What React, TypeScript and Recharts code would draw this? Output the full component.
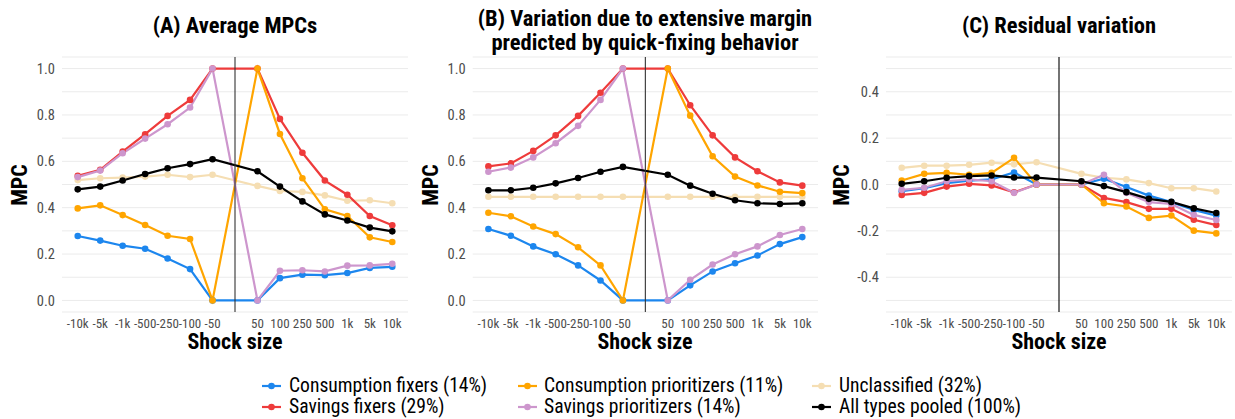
import React from 'react';
import { LineChart, Line, XAxis, YAxis, CartesianGrid, ReferenceLine } from 'recharts';

const SHOCK_LABELS = ['-10k', '-5k', '-1k', '-500', '-250', '-100', '-50', '50', '100', '250', '500', '1k', '5k', '10k'];
const SHOCK_POS = [-7, -6, -5, -4, -3, -2, -1, 1, 2, 3, 4, 5, 6, 7];

// Panel A: Average MPCs
const A_cf = [0.278, 0.258, 0.236, 0.223, 0.181, 0.135, 0, 0, 0.096, 0.111, 0.109, 0.118, 0.14, 0.145];
const A_sf = [0.537, 0.563, 0.642, 0.717, 0.796, 0.865, 1, 1, 0.783, 0.637, 0.517, 0.456, 0.364, 0.324];
const A_cp = [0.397, 0.41, 0.368, 0.325, 0.279, 0.265, 0, 1, 0.718, 0.527, 0.393, 0.364, 0.272, 0.252];
const A_sp = [0.532, 0.56, 0.635, 0.698, 0.76, 0.832, 1, 0, 0.128, 0.13, 0.125, 0.15, 0.151, 0.158];
const A_un = [0.519, 0.527, 0.53, 0.534, 0.542, 0.532, 0.542, 0.494, 0.472, 0.468, 0.453, 0.43, 0.432, 0.419];
const A_all = [0.479, 0.491, 0.517, 0.545, 0.57, 0.588, 0.609, 0.557, 0.491, 0.427, 0.371, 0.345, 0.314, 0.298];

// Panel B: Variation due to extensive margin
const B_cf = [0.308, 0.279, 0.233, 0.199, 0.151, 0.086, 0, 0, 0.065, 0.125, 0.16, 0.194, 0.243, 0.273];
const B_sf = [0.578, 0.591, 0.645, 0.712, 0.796, 0.896, 1, 1, 0.842, 0.712, 0.617, 0.557, 0.509, 0.495];
const B_cp = [0.378, 0.363, 0.319, 0.286, 0.229, 0.151, 0, 1, 0.797, 0.622, 0.534, 0.496, 0.469, 0.463];
const B_sp = [0.555, 0.573, 0.617, 0.678, 0.753, 0.865, 1, 0, 0.089, 0.155, 0.199, 0.233, 0.282, 0.308];
const B_un = [0.447, 0.447, 0.447, 0.447, 0.447, 0.447, 0.447, 0.447, 0.447, 0.447, 0.447, 0.447, 0.447, 0.447];
const B_all = [0.475, 0.475, 0.486, 0.505, 0.528, 0.555, 0.576, 0.542, 0.495, 0.46, 0.432, 0.419, 0.416, 0.419];

// Panel C: Residual variation
const C_cf = [-0.029, -0.016, 0.006, 0.017, 0.022, 0.052, 0, 0, 0.025, -0.011, -0.048, -0.076, -0.11, -0.134];
const C_sf = [-0.045, -0.036, -0.009, 0.003, -0.004, -0.034, 0, 0, -0.058, -0.076, -0.105, -0.105, -0.152, -0.175];
const C_cp = [0.017, 0.046, 0.05, 0.042, 0.05, 0.115, 0, 0, -0.081, -0.095, -0.144, -0.134, -0.199, -0.211];
const C_sp = [-0.023, -0.014, 0.014, 0.022, 0.014, -0.036, 0, 0, 0.042, -0.036, -0.076, -0.084, -0.131, -0.153];
const C_un = [0.072, 0.081, 0.081, 0.085, 0.094, 0.087, 0.096, 0.046, 0.029, 0.022, 0.006, -0.016, -0.016, -0.03];
const C_all = [0.003, 0.014, 0.029, 0.036, 0.039, 0.03, 0.03, 0.014, -0.007, -0.033, -0.062, -0.075, -0.103, -0.123];

const AB_TICKS = [0, 0.1, 0.2, 0.3, 0.4, 0.5, 0.6, 0.7, 0.8, 0.9, 1.0];
const AB_LABELS = [0, 0.2, 0.4, 0.6, 0.8, 1.0];
const C_TICKS = [-0.5, -0.4, -0.3, -0.2, -0.1, 0, 0.1, 0.2, 0.3, 0.4, 0.5];
const C_LABELS = [-0.4, -0.2, 0, 0.2, 0.4];

const SERIES = [
  { key: 'un', name: 'Unclassified (32%)', color: '#F5DEB3' },
  { key: 'cf', name: 'Consumption fixers (14%)', color: '#1C86EE' },
  { key: 'sf', name: 'Savings fixers (29%)', color: '#EE3B3B' },
  { key: 'cp', name: 'Consumption prioritizers (11%)', color: '#FFA500' },
  { key: 'sp', name: 'Savings prioritizers (14%)', color: '#CD96CD' },
  { key: 'all', name: 'All types pooled (100%)', color: '#000000' },
];

const FONT = "'Roboto Condensed', 'Roboto', 'Liberation Sans Narrow', sans-serif";

function buildRows(cf: number[], sf: number[], cp: number[], sp: number[], un: number[], all: number[]) {
  return SHOCK_POS.map((x, i) => ({ x, cf: cf[i], sf: sf[i], cp: cp[i], sp: sp[i], un: un[i], all: all[i] }));
}

const dataA = buildRows(A_cf, A_sf, A_cp, A_sp, A_un, A_all);
const dataB = buildRows(B_cf, B_sf, B_cp, B_sp, B_un, B_all);
const dataC = buildRows(C_cf, C_sf, C_cp, C_sp, C_un, C_all);

const xLabel = (v: number) => {
  const i = SHOCK_POS.indexOf(v);
  return i >= 0 ? SHOCK_LABELS[i] : '';
};

type PanelProps = {
  left: number;
  width: number;
  marginLeft: number;
  marginRight: number;
  data: any[];
  domain: [number, number];
  ticks: number[];
  labels: number[];
  vlineColor: string;
};

const YAXIS_W = 50;

function Panel(p: PanelProps) {
  const fmt = (v: number) => {
    const hit = p.labels.some((l) => Math.abs(l - v) < 1e-9);
    if (!hit) return '';
    const s = v.toFixed(1);
    return s === '-0.0' ? '0.0' : s;
  };
  return (
    <div style={{ position: 'absolute', left: p.left, top: 0 }}>
      <LineChart
        width={p.width}
        height={360}
        data={p.data}
        margin={{ top: 57, right: p.marginRight, bottom: 18, left: p.marginLeft }}
        style={{ fontFamily: FONT, fontStretch: 'condensed' }}
      >
        <CartesianGrid vertical={false} stroke="#EBEBEB" strokeWidth={1} />
        <XAxis
          type="number"
          dataKey="x"
          domain={[-7.7, 7.7]}
          ticks={SHOCK_POS}
          interval={0}
          tickFormatter={xLabel}
          axisLine={false}
          tickLine={false}
          tickSize={0}
          tickMargin={7}
          height={30}
          tick={{ fontSize: 13, fill: '#4D4D4D', fontFamily: FONT }}
          allowDataOverflow
        />
        <YAxis
          type="number"
          domain={p.domain}
          ticks={p.ticks}
          interval={0}
          tickFormatter={fmt}
          axisLine={false}
          tickLine={false}
          tickSize={0}
          tickMargin={7}
          width={YAXIS_W}
          tick={{ fontSize: 14.5, fill: '#4D4D4D', fontFamily: FONT }}
          allowDataOverflow
        />
        {SERIES.map((s) => (
          <Line
            key={s.key}
            type="linear"
            dataKey={s.key}
            stroke={s.color}
            strokeWidth={2.2}
            dot={{ r: 3.3, fill: s.color, stroke: s.color, strokeWidth: 0 }}
            activeDot={false}
            isAnimationActive={false}
          />
        ))}
        <ReferenceLine x={0} stroke={p.vlineColor} strokeWidth={1.1} ifOverflow="extendDomain" />
      </LineChart>
    </div>
  );
}

const titleStyle: React.CSSProperties = {
  position: 'absolute',
  fontFamily: FONT,
  fontStretch: 'condensed',
  fontWeight: 700,
  fontSize: 22.5,
  color: '#000',
  textAlign: 'center',
  whiteSpace: 'nowrap',
  lineHeight: '24px',
  transform: 'translateX(-50%)',
};

const axisTitle: React.CSSProperties = {
  position: 'absolute',
  fontFamily: FONT,
  fontStretch: 'condensed',
  fontWeight: 700,
  fontSize: 22,
  color: '#000',
  whiteSpace: 'nowrap',
  lineHeight: '18px',
};

const LEGEND_COLS = [
  { keyX: 262, textX: 289, items: ['cf', 'sf'] },
  { keyX: 518, textX: 544, items: ['cp', 'sp'] },
  { keyX: 812, textX: 839, items: ['un', 'all'] },
];
const LEGEND_ROWS_Y = [385.5, 406.5];

function Legend() {
  return (
    <>
      {LEGEND_COLS.map((col) =>
        col.items.map((k, ri) => {
          const s = SERIES.find((x) => x.key === k)!;
          const y = LEGEND_ROWS_Y[ri];
          return (
            <React.Fragment key={k}>
              <svg style={{ position: 'absolute', left: col.keyX, top: y - 5 }} width={19} height={10}>
                <line x1={0} y1={5} x2={19} y2={5} stroke={s.color} strokeWidth={2.2} />
                <circle cx={9.5} cy={5} r={3.3} fill={s.color} />
              </svg>
              <div
                style={{
                  position: 'absolute',
                  left: col.textX,
                  top: y - 10,
                  height: 20,
                  lineHeight: '20px',
                  fontFamily: FONT,
                  fontStretch: 'condensed',
                  fontSize: 19.6,
                  color: '#000',
                  whiteSpace: 'nowrap',
                }}
              >
                {s.name}
              </div>
            </React.Fragment>
          );
        })
      )}
    </>
  );
}

function YTitle({ x, y }: { x: number; y: number }) {
  return (
    <div style={{ ...axisTitle, left: x, top: y, transform: 'translate(-50%, -50%) rotate(-90deg)' }}>MPC</div>
  );
}

function XTitle({ x, y }: { x: number; y: number }) {
  return <div style={{ ...axisTitle, left: x, top: y, transform: 'translate(-50%, -50%)' }}>Shock size</div>;
}

export default function App() {
  return (
    <div style={{ position: 'absolute', left: 0, top: 0, width: 1235, height: 419, background: '#fff', overflow: 'hidden' }}>
      <Panel left={0} width={420} marginLeft={12} marginRight={12} data={dataA} domain={[-0.05, 1.05]} ticks={AB_TICKS} labels={AB_LABELS} vlineColor="#333333" />
      <Panel left={410} width={420} marginLeft={12.7} marginRight={12} data={dataB} domain={[-0.05, 1.05]} ticks={AB_TICKS} labels={AB_LABELS} vlineColor="#333333" />
      <Panel left={822} width={413} marginLeft={14} marginRight={3} data={dataC} domain={[-0.55, 0.55]} ticks={C_TICKS} labels={C_LABELS} vlineColor="#000000" />

      <div style={{ ...titleStyle, left: 235, top: 13 }}>(A) Average MPCs</div>
      <div style={{ ...titleStyle, left: 645, top: 6 }}>
        (B) Variation due to extensive margin
        <br />
        predicted by quick-fixing behavior
      </div>
      <div style={{ ...titleStyle, left: 1059, top: 13 }}>(C) Residual variation</div>

      <YTitle x={20} y={185} />
      <YTitle x={430.5} y={185} />
      <YTitle x={842} y={185} />
      <XTitle x={235} y={342} />
      <XTitle x={645} y={342} />
      <XTitle x={1059} y={342} />

      <Legend />
    </div>
  );
}
